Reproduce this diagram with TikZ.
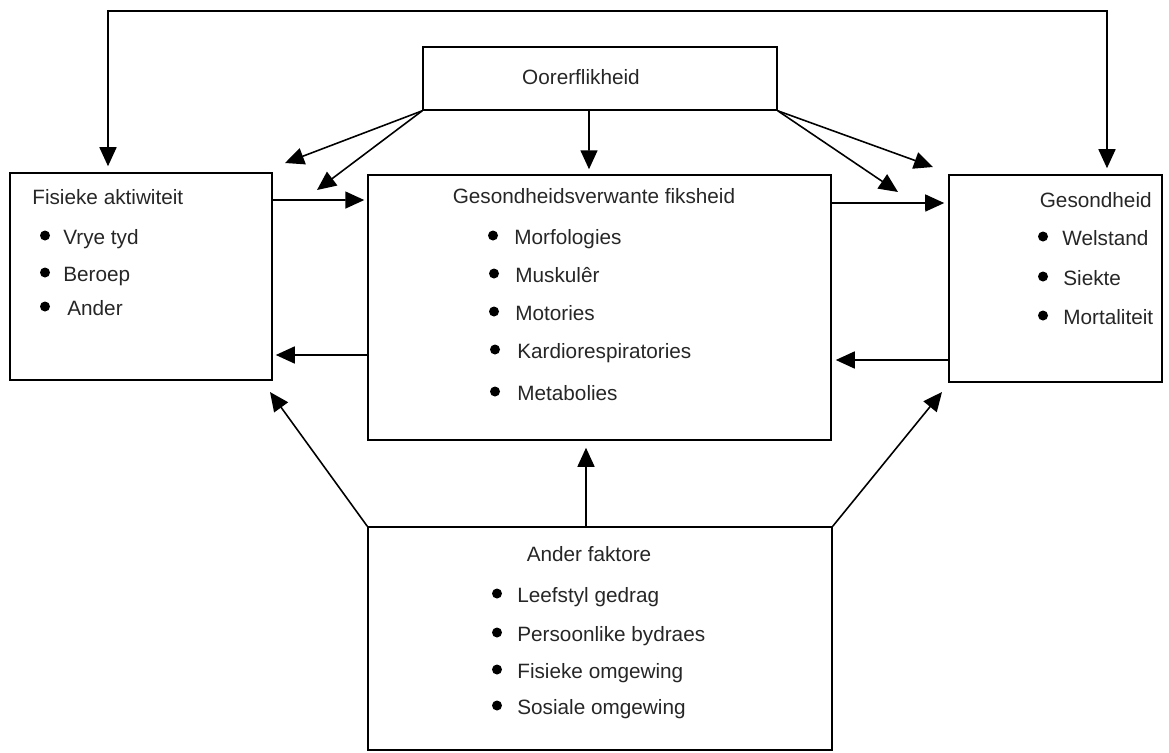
\documentclass[tikz,border=0pt]{standalone}
\usepackage{fontspec}
\setmainfont{Liberation Sans}
\usetikzlibrary{arrows.meta}

\begin{document}
\begin{tikzpicture}[x=0.02cm,y=-0.02cm]
\tikzstyle{every node}=[font=\fontsize{11.8}{14}\selectfont,text=black!85]
\tikzstyle{box}=[draw=black,line width=0.9pt,inner sep=0pt]
\tikzstyle{item}=[anchor=base west,inner sep=0pt]
\tikzstyle{arr}=[line width=0.9pt,-{Triangle[length=0.38cm,width=0.34cm]}]

\useasboundingbox (0,0) rectangle (1169,752);

\node[box,minimum width=7.08cm,minimum height=1.26cm] (oor) at (600,78.5) {};
\node[box,minimum width=5.24cm,minimum height=4.14cm] (fis) at (141,276.5) {};
\node[box,minimum width=9.26cm,minimum height=5.3cm] (gvf) at (599.5,307.5) {};
\node[box,minimum width=4.26cm,minimum height=4.14cm] (ges) at (1055.5,278.5) {};
\node[box,minimum width=9.28cm,minimum height=4.46cm] (and) at (600,638.5) {};

\node[anchor=base,inner sep=0pt] (oorT) at (581,84) {Oorerflikheid};

\node[item] (fisT) at (32,204) {Fisieke aktiwiteit};
\node[item] (fis1) at (63,244) {Vrye tyd};
\node[item] (fis2) at (63,281) {Beroep};
\node[item] (fis3) at (67,315) {Ander};
\fill (45,235.5) circle (0.1cm);
\fill (45,272.5) circle (0.1cm);
\fill (45,306.5) circle (0.1cm);

\node[anchor=base,inner sep=0pt] (gvfT) at (594,203) {Gesondheidsverwante fiksheid};
\node[item] (gvf1) at (514,244) {Morfologies};
\node[item] (gvf2) at (515,282) {Muskulêr};
\node[item] (gvf3) at (515,320) {Motories};
\node[item] (gvf4) at (517,358) {Kardiorespiratories};
\node[item] (gvf5) at (517,400) {Metabolies};
\fill (493,235.5) circle (0.1cm);
\fill (494,273.5) circle (0.1cm);
\fill (494,311.5) circle (0.1cm);
\fill (495,349.5) circle (0.1cm);
\fill (495,391.5) circle (0.1cm);

\node[anchor=base east,inner sep=0pt] (gesT) at (1152,207) {Gesondheid};
\node[item] (ges1) at (1062,245) {Welstand};
\node[item] (ges2) at (1063,285) {Siekte};
\node[item] (ges3) at (1063,324) {Mortaliteit};
\fill (1043,236.5) circle (0.1cm);
\fill (1043,276.5) circle (0.1cm);
\fill (1043,315.5) circle (0.1cm);

\node[anchor=base,inner sep=0pt] (andT) at (589,561) {Ander faktore};
\node[item] (and1) at (517,602) {Leefstyl gedrag};
\node[item] (and2) at (517,641) {Persoonlike bydraes};
\node[item] (and3) at (517,678) {Fisieke omgewing};
\node[item] (and4) at (517,714) {Sosiale omgewing};
\fill (497,593.5) circle (0.1cm);
\fill (497,632.5) circle (0.1cm);
\fill (497,669.5) circle (0.1cm);
\fill (497,705.5) circle (0.1cm);

% free ends of the slanted arrows
\coordinate (d1) at (285,163);
\coordinate (d2) at (317,190);
\coordinate (d3) at (933,167);
\coordinate (d4) at (898,192);
\coordinate (b1) at (270,392);
\coordinate (b2) at (942,392);
\coordinate (topL) at (108,11);
\coordinate (topR) at (1107,11);

\draw[arr,{Triangle[length=0.38cm,width=0.34cm]}-{Triangle[length=0.38cm,width=0.34cm]},shorten <=0.12cm,shorten >=0.12cm]
  ([xshift=-0.66cm]fis.north) -- (topL) -- (topR) -- ([xshift=1.03cm]ges.north);

\path[arr] ([xshift=-0.22cm]oor.south) edge[shorten >=0.1cm] ([xshift=-0.21cm]gvf.north);
\path[arr] (oor.south west) edge (d1);
\path[arr] (oor.south west) edge (d2);
\path[arr] (oor.south east) edge (d3);
\path[arr] (oor.south east) edge (d4);

\path[arr] ([yshift=1.53cm]fis.east) edge[shorten >=0.06cm] ([yshift=2.15cm]gvf.west);
\path[arr] ([yshift=2.09cm]gvf.east) edge[shorten >=0.08cm] ([yshift=1.51cm]ges.west);
\path[arr] ([yshift=-0.95cm]gvf.west) edge[shorten >=0.06cm] ([yshift=-1.57cm]fis.east);
\path[arr] ([yshift=-1.63cm]ges.west) edge[shorten >=0.08cm] ([yshift=-1.05cm]gvf.east);

\path[arr] (and.north west) edge (b1);
\path[arr] (and.north east) edge (b2);
\path[arr] ([xshift=-0.28cm]and.north) edge[shorten >=0.14cm] ([xshift=-0.27cm]gvf.south);

\end{tikzpicture}
\end{document}
